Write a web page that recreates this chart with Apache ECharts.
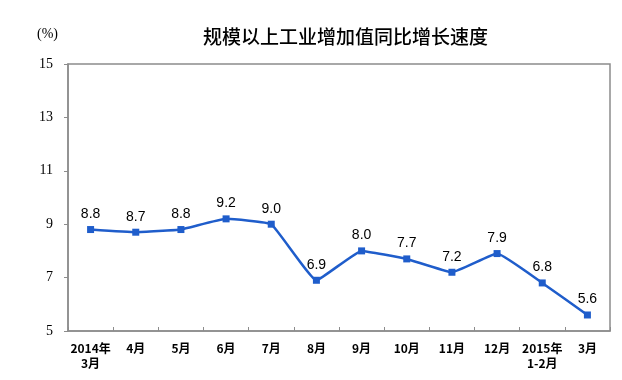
<!DOCTYPE html>
<html>
<head>
<meta charset="utf-8">
<script src="https://cdn.jsdelivr.net/npm/echarts@6/dist/echarts.min.js"></script>
<style>html,body{margin:0;padding:0;background:#fff;}#c{width:622px;height:380px;}</style>
</head>
<body>
<div id="c"></div>
<script>
var categories = ['2014年\n3月','4月','5月','6月','7月','8月','9月','10月','11月','12月','2015年\n1-2月','3月'];
var values = [8.8, 8.7, 8.8, 9.2, 9.0, 6.9, 8.0, 7.7, 7.2, 7.9, 6.8, 5.6];
var titleText = '规模以上工业增加值同比增长速度';
var unitText = '(%)';

var chart = echarts.init(document.getElementById('c'), null, {renderer: 'canvas'});
chart.setOption({
  animation: false,
  backgroundColor: '#fff',
  title: {
    text: titleText,
    left: 198,
    top: 22,
    textStyle: {fontFamily: 'Noto Sans CJK SC', fontSize: 19, fontWeight: 500, color: '#000'}
  },
  graphic: [{
    type: 'text',
    left: 37,
    top: 27,
    style: {text: unitText, fontFamily: 'Liberation Serif', fontSize: 14, fill: '#000'}
  }],
  grid: {left: 68, right: 12, top: 64, bottom: 49, show: true, borderColor: '#8c8c8c', borderWidth: 1.5, backgroundColor: 'transparent'},
  xAxis: {
    type: 'category',
    data: categories,
    boundaryGap: true,
    axisLine: {show: true, lineStyle: {color: '#8c8c8c', width: 1.5}},
    axisTick: {show: true, inside: true, length: 4, interval: 0, lineStyle: {color: '#8c8c8c'}},
    axisLabel: {interval: 0, margin: 10, fontFamily: 'Noto Sans CJK SC', fontWeight: 'bold', fontSize: 12, lineHeight: 15, color: '#000'},
    splitLine: {show: false}
  },
  yAxis: {
    type: 'value',
    min: 5, max: 15, interval: 2,
    axisLine: {show: true, lineStyle: {color: '#8c8c8c', width: 1.5}},
    axisTick: {show: true, inside: false, length: 4, lineStyle: {color: '#8c8c8c'}},
    axisLabel: {margin: 15, fontFamily: 'Liberation Serif', fontSize: 14, color: '#000'},
    splitLine: {show: false}
  },
  series: [{
    type: 'line',
    data: values,
    smooth: 0.1,
    symbol: 'rect',
    symbolSize: 7,
    lineStyle: {color: '#1f5dcb', width: 2.5},
    itemStyle: {color: '#1f5dcb'},
    label: {
      show: true, position: 'top', distance: 5,
      fontFamily: 'Liberation Sans', fontSize: 14, color: '#000',
      formatter: function (p) { return p.value.toFixed(1); }
    }
  }]
});
</script>
</body>
</html>
